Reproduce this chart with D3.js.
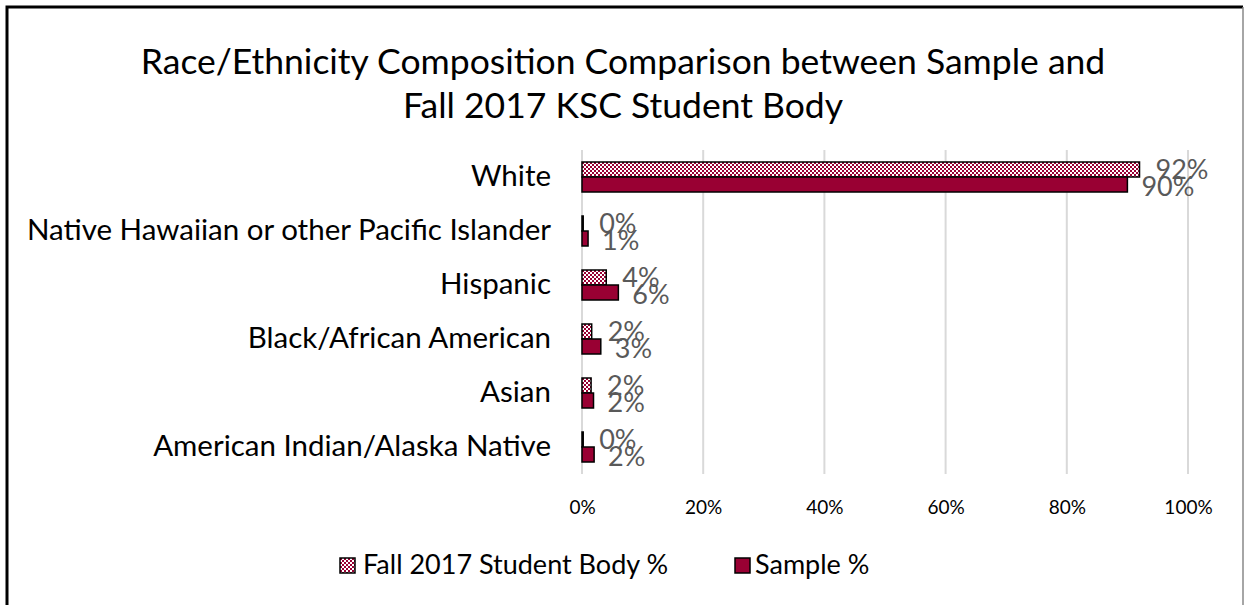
<!DOCTYPE html>
<html>
<head>
<meta charset="utf-8">
<script src="https://cdn.jsdelivr.net/npm/d3@7"></script>
<style>
  body { margin: 0; background: #fff; }
  svg { display: block; font-family: Lato, "Liberation Sans", sans-serif; }
</style>
</head>
<body>
<svg id="chart"></svg>
<script>
// chart data
const categories = [
    "White",
    "Native Hawaiian or other Pacific Islander",
    "Hispanic",
    "Black/African American",
    "Asian",
    "American Indian/Alaska Native"
];
const seriesNames = ["Fall 2017 Student Body %", "Sample %"];
const fallValues = [92, 0.2, 4, 1.6, 1.5, 0.2];
const sampleValues = [90, 1, 6, 3.1, 1.9, 2];
const fallLabels = ["92%", "0%", "4%", "2%", "2%", "0%"];
const sampleLabels = ["90%", "1%", "6%", "3%", "2%", "2%"];
const xTicks = [0, 20, 40, 60, 80, 100];

const width = 1244, height = 605;
const red = "#990033";

const svg = d3.select("#chart")
    .attr("width", width)
    .attr("height", height);

// pattern for the student body series (small checkerboard)
const defs = svg.append("defs");
const pat = defs.append("pattern")
    .attr("id", "checks")
    .attr("patternUnits", "userSpaceOnUse")
    .attr("width", 4).attr("height", 4);
pat.append("rect").attr("width", 4).attr("height", 4).attr("fill", "#fff");
pat.append("rect").attr("width", 2).attr("height", 2).attr("fill", red);
pat.append("rect").attr("x", 2).attr("y", 2).attr("width", 2).attr("height", 2).attr("fill", red);

// chart border
svg.append("path")
    .attr("d", "M7,605 L7,7 L1243,7")
    .attr("fill", "none")
    .attr("stroke", "#000")
    .attr("stroke-width", 3);
svg.append("line")
    .attr("x1", 1243).attr("x2", 1243).attr("y1", 7).attr("y2", 605)
    .attr("stroke", "#888").attr("stroke-width", 1.5);

// title
const title = svg.append("text")
    .attr("text-anchor", "middle")
    .attr("font-size", 35.5)
    .attr("fill", "#000");
title.append("tspan").attr("x", 623).attr("y", 74)
    .text("Race/Ethnicity Composition Comparison between Sample and");
title.append("tspan").attr("x", 623).attr("y", 118)
    .text("Fall 2017 KSC Student Body");

const x = d3.scaleLinear().domain([0, 100]).range([582, 1188]);
const y = d3.scaleBand().domain(categories).range([150, 474]);

// gridlines
svg.append("g")
    .selectAll("line")
    .data(xTicks)
    .join("line")
    .attr("x1", d => x(d)).attr("x2", d => x(d))
    .attr("y1", 150).attr("y2", 474)
    .attr("stroke", "#d9d9d9")
    .attr("stroke-width", 2);

// x axis tick labels
const xAxis = d3.axisBottom(x)
    .tickValues(xTicks)
    .tickFormat(d => d + "%")
    .tickSize(0)
    .tickPadding(0);
const gx = svg.append("g")
    .attr("transform", "translate(0,500)")
    .call(xAxis);
gx.select(".domain").remove();
gx.selectAll("text")
    .attr("font-family", "Lato, sans-serif")
    .attr("font-size", 19)
    .attr("fill", "#000");

// category labels
const yAxis = d3.axisLeft(y).tickSize(0).tickPadding(0);
const gy = svg.append("g")
    .attr("transform", "translate(551,0)")
    .call(yAxis);
gy.select(".domain").remove();
gy.selectAll("text")
    .attr("font-family", "Lato, sans-serif")
    .attr("font-size", 29.5)
    .attr("fill", "#000");

const barH = 15;
const rows = categories.map((c, i) => ({
    cat: c, fall: fallValues[i], sample: sampleValues[i],
    fallLabel: fallLabels[i], sampleLabel: sampleLabels[i]
}));

const bars = svg.append("g");
// fall 2017 bars (top of each pair)
bars.selectAll(".fall")
    .data(rows)
    .join("rect")
    .attr("class", "fall")
    .attr("x", x(0))
    .attr("y", d => y(d.cat) + y.bandwidth() / 2 - barH)
    .attr("width", d => x(d.fall) - x(0))
    .attr("height", barH)
    .attr("fill", "url(#checks)")
    .attr("stroke", "#000")
    .attr("stroke-width", 1.5);
// sample bars
bars.selectAll(".sample")
    .data(rows)
    .join("rect")
    .attr("class", "sample")
    .attr("x", x(0))
    .attr("y", d => y(d.cat) + y.bandwidth() / 2)
    .attr("width", d => x(d.sample) - x(0))
    .attr("height", barH)
    .attr("fill", red)
    .attr("stroke", "#000")
    .attr("stroke-width", 1.5);

// data labels, centred on each bar, overlapping as in the original
const labels = svg.append("g")
    .attr("font-size", 27)
    .attr("fill", "#595959");
labels.selectAll(".fl")
    .data(rows)
    .join("text")
    .attr("x", d => x(d.fall) + 16)
    .attr("y", d => y(d.cat) + y.bandwidth() / 2 - barH / 2)
    .attr("dy", "0.35em")
    .text(d => d.fallLabel);
labels.selectAll(".sl")
    .data(rows)
    .join("text")
    .attr("x", d => x(d.sample) + 14)
    .attr("y", d => y(d.cat) + y.bandwidth() / 2 + barH / 2 + 2)
    .attr("dy", "0.35em")
    .text(d => d.sampleLabel);

// legend
const legend = svg.append("g").attr("font-size", 27).attr("fill", "#000");
const legendX = [340, 735];
const lg = legend.selectAll("g")
    .data(seriesNames)
    .join("g")
    .attr("transform", (d, i) => `translate(${legendX[i]},558)`);
lg.append("rect")
    .attr("width", 15).attr("height", 15)
    .attr("fill", (d, i) => i === 0 ? "url(#checks)" : red)
    .attr("stroke", "#000")
    .attr("stroke-width", 1.5);
lg.append("text")
    .attr("x", (d, i) => i === 0 ? 23 : 20).attr("y", 16)
    .text(d => d);
</script>
</body>
</html>
